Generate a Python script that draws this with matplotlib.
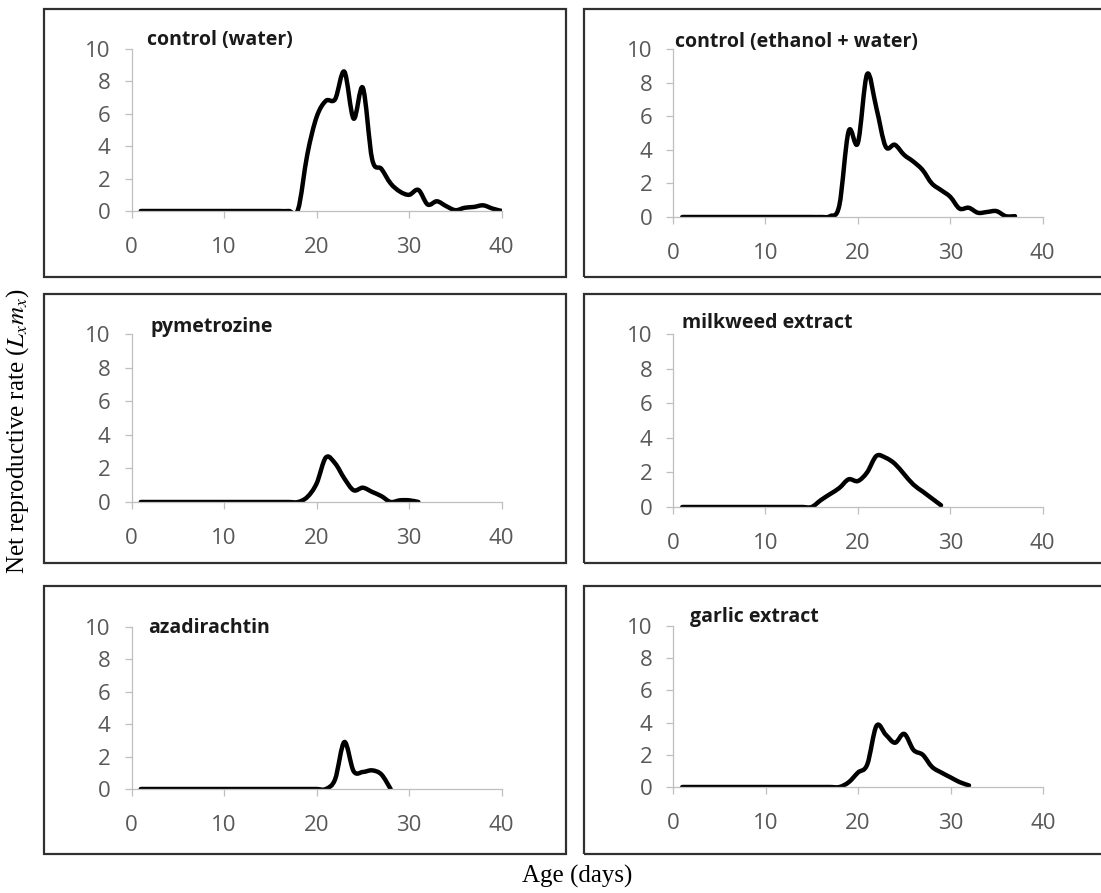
import numpy as np
import matplotlib
matplotlib.use("Agg")
import matplotlib.pyplot as plt
from matplotlib.path import Path
from matplotlib.patches import PathPatch, Rectangle

# net reproductive rate (Lx mx) per day of age, one list per treatment
water = [0, 0, 0, 0, 0, 0, 0, 0, 0, 0, 0, 0, 0, 0, 0, 0, 0,
         0.1, 3.5, 5.8, 6.8, 6.9, 8.6, 5.7, 7.6, 3.2, 2.6, 1.7, 1.2, 1.0,
         1.3, 0.4, 0.6, 0.3, 0.05, 0.2, 0.25, 0.35, 0.15, 0.0]
ethanol = [0, 0, 0, 0, 0, 0, 0, 0, 0, 0, 0, 0, 0, 0, 0, 0,
           0.05, 0.7, 5.1, 4.4, 8.5, 6.5, 4.2, 4.3, 3.7, 3.3, 2.8, 2.0, 1.6,
           1.2, 0.5, 0.55, 0.25, 0.3, 0.35, 0.05, 0.05]
pymetrozine = [0, 0, 0, 0, 0, 0, 0, 0, 0, 0, 0, 0, 0, 0, 0, 0, 0, 0,
               0.3, 1.1, 2.65, 2.3, 1.4, 0.7, 0.85, 0.6, 0.35, 0.0, 0.1, 0.1, 0.0]
milkweed = [0, 0, 0, 0, 0, 0, 0, 0, 0, 0, 0, 0, 0, 0, 0,
            0.4, 0.75, 1.1, 1.6, 1.5, 2.0, 2.95, 2.85, 2.5, 1.9, 1.3, 0.9, 0.5, 0.1]
azadirachtin = [0, 0, 0, 0, 0, 0, 0, 0, 0, 0, 0, 0, 0, 0, 0, 0, 0, 0, 0, 0, 0,
                0.6, 2.9, 1.1, 1.05, 1.15, 0.9, 0.0]
garlic = [0, 0, 0, 0, 0, 0, 0, 0, 0, 0, 0, 0, 0, 0, 0, 0, 0, 0,
          0.3, 0.9, 1.4, 3.8, 3.25, 2.75, 3.3, 2.3, 2.0, 1.25, 0.9, 0.6, 0.3, 0.1]

titles = ["control (water)", "control (ethanol + water)", "pymetrozine",
          "milkweed extract", "azadirachtin", "garlic extract"]
series = [water, ethanol, pymetrozine, milkweed, azadirachtin, garlic]

W, H = 1101, 893
plt.rcParams["mathtext.fontset"] = "stix"

fig = plt.figure(figsize=(W / 100, H / 100), dpi=100)

# plot areas in pixels: left, right, top(y=10), bottom(y=0)
areas = [(131.5, 501.7, 49, 211), (673, 1042.7, 49, 217),
         (131.5, 501.7, 334, 502), (673, 1042.7, 334, 507),
         (131.5, 501.7, 627, 789), (673, 1043, 626, 787)]
# title positions (left x, centre y) in pixels
title_pos = [(147, 40), (675, 42), (150, 327), (682, 323), (148, 628), (690, 617)]
# outer boxes: left, right, top, bottom
cols = [(44, 566), (584, 1115)]
rows = [(9, 277), (294, 563), (586, 854)]


def smooth_path(x, y):
    # Excel style smoothed line as cubic bezier segments
    n = len(x)
    verts = [(x[0], y[0])]
    codes = [Path.MOVETO]
    for i in range(n - 1):
        x0, y0 = (x[i - 1], y[i - 1]) if i > 0 else (x[i], y[i])
        x3, y3 = (x[i + 2], y[i + 2]) if i + 2 < n else (x[i + 1], y[i + 1])
        c1 = (x[i] + (x[i + 1] - x0) / 6, y[i] + (y[i + 1] - y0) / 6)
        c2 = (x[i + 1] - (x3 - x[i]) / 6, y[i + 1] - (y3 - y[i]) / 6)
        verts += [c1, c2, (x[i + 1], y[i + 1])]
        codes += [Path.CURVE4] * 3
    return Path(verts, codes)


for r in rows:
    for c in cols:
        fig.patches.append(Rectangle((c[0] / W, 1 - r[1] / H), (c[1] - c[0]) / W,
                                     (r[1] - r[0]) / H, transform=fig.transFigure,
                                     fill=False, edgecolor="#303030", lw=1.6))

for k in range(6):
    l, rr, t, b = areas[k]
    ax = fig.add_axes([l / W, 1 - b / H, (rr - l) / W, (b - t) / H])
    vals = series[k]
    ages = np.arange(1, len(vals) + 1)
    ax.add_patch(PathPatch(smooth_path(ages, vals), fill=False, lw=3.2,
                           edgecolor="black", capstyle="round", joinstyle="round"))
    ax.set_xlim(0, 40)
    ax.set_ylim(0, 10)
    ax.set_xticks([0, 10, 20, 30, 40])
    ax.set_yticks([0, 2, 4, 6, 8, 10])
    for s in ["top", "right"]:
        ax.spines[s].set_visible(False)
    for s in ["left", "bottom"]:
        ax.spines[s].set_color("#bfbfbf")
        ax.spines[s].set_linewidth(0.9)
    ax.patch.set_alpha(0)
    ax.tick_params(axis="both", direction="out", length=5, width=0.9,
                   color="#bfbfbf", labelcolor="#595959", labelsize=16)
    ax.tick_params(axis="y", pad=10)
    ax.tick_params(axis="x", pad=14)
    for lab in ax.get_xticklabels() + ax.get_yticklabels():
        lab.set_fontfamily("Open Sans")
    fig.text(title_pos[k][0] / W, 1 - title_pos[k][1] / H, titles[k],
             ha="left", va="center", fontsize=14, fontweight="bold",
             family="Open Sans", color="#1a1a1a")

fig.text(18 / W, 1 - 431 / H, r"Net reproductive rate ($L_x m_x$)",
         rotation=90, ha="center", va="center", fontsize=18,
         family="Liberation Serif")
fig.text(577 / W, 1 - 876 / H, "Age (days)", ha="center", va="center",
         fontsize=18, family="Liberation Serif")

fig.savefig("out.png", dpi=100, facecolor="white")
